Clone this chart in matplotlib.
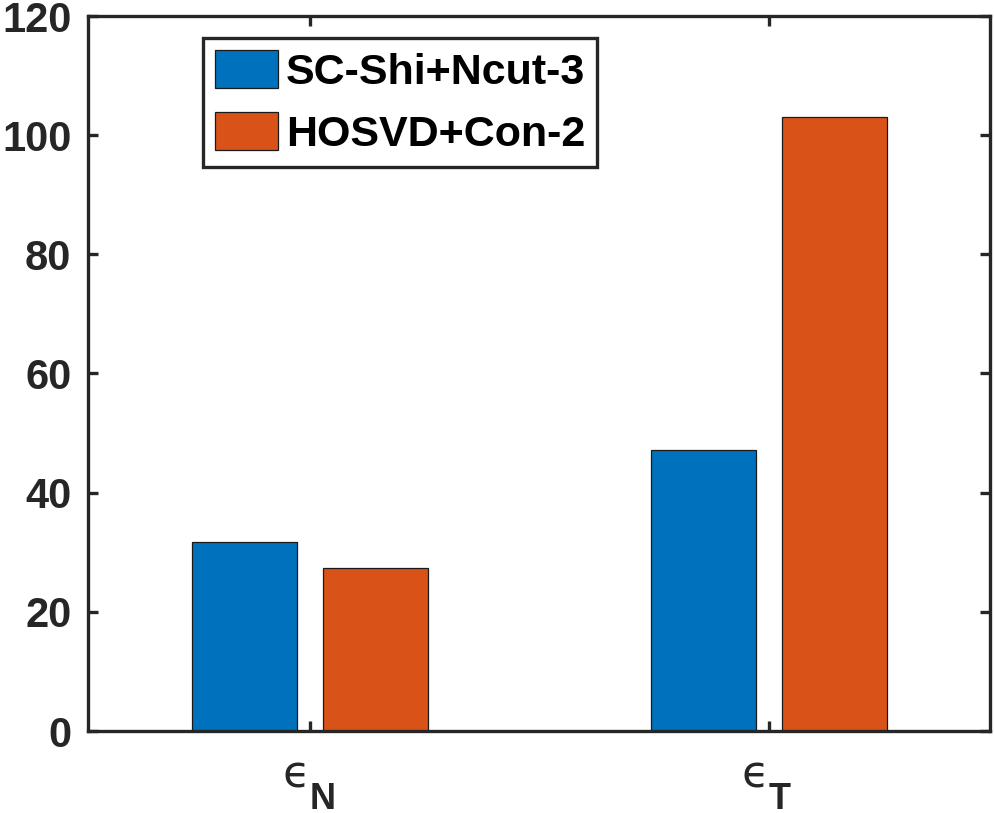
import numpy as np
import matplotlib
matplotlib.use('Agg')
import matplotlib.pyplot as plt
from matplotlib.transforms import offset_copy

# data
groups = ['N', 'T']
series_names = ['SC-Shi+Ncut-3', 'HOSVD+Con-2']
sc_shi_ncut = [31.8, 47.1]
hosvd_con = [27.4, 103.1]
y_ticks = [0, 20, 40, 60, 80, 100, 120]

BLUE = '#0072BD'
ORANGE = '#D95319'
AX_COLOR = '#262626'

plt.rcParams['font.family'] = ['Liberation Sans', 'DejaVu Sans']
plt.rcParams['font.weight'] = 'bold'

W, H = 994, 813
fig = plt.figure(figsize=(W / 100, H / 100), dpi=100)
ax = fig.add_axes([88 / W, (H - 731) / H, (990 - 88) / W, (731 - 16) / H])

x = np.arange(1, len(groups) + 1)
bar_w = 0.229
off = 0.143
ax.bar(x - off, sc_shi_ncut, bar_w, color=BLUE, edgecolor='#1a1a1a',
       linewidth=0.9, label=series_names[0])
ax.bar(x + off, hosvd_con, bar_w, color=ORANGE, edgecolor='#1a1a1a',
       linewidth=0.9, label=series_names[1])

ax.set_xlim(0.5163, 2.4815)
ax.set_ylim(0, 120)
ax.set_yticks(y_ticks)
ax.set_xticks(x)
ax.set_xticklabels([''] * len(x))

for s in ax.spines.values():
    s.set_linewidth(2.4)
    s.set_color(AX_COLOR)
ax.tick_params(axis='both', direction='in', length=7, width=2.4,
               color=AX_COLOR, labelcolor=AX_COLOR, labelsize=30,
               top=True, right=True)
ax.tick_params(axis='y', pad=12)
for lab in ax.get_yticklabels():
    lab.set_fontweight('bold')

# x tick labels: epsilon with a subscript letter
xtr = ax.get_xaxis_transform()
for xi, g in zip(x, groups):
    eps = ax.text(xi, 0, '\u03f5', transform=offset_copy(xtr, fig=fig, x=0, y=-56, units='dots'),
                  ha='right', va='baseline', fontsize=32, color=AX_COLOR,
                  family='DejaVu Sans', fontweight='normal')
    ax.annotate(g, xy=(1, 0), xycoords=(eps, xtr), xytext=(0, -78), textcoords='offset pixels',
                ha='left', va='baseline', fontsize=26, fontweight='bold', color=AX_COLOR,
                annotation_clip=False)

leg = ax.legend(loc='upper left', bbox_to_anchor=(203 / W, 1 - 38 / H),
                bbox_transform=fig.transFigure, borderaxespad=0,
                fontsize=31, handlelength=1.46, handleheight=0.97,
                handletextpad=0.18, labelspacing=0.45, borderpad=0.28,
                fancybox=False, framealpha=1, edgecolor=AX_COLOR)
leg.get_frame().set_linewidth(2.4)
for t in leg.get_texts():
    t.set_fontweight('bold')
    t.set_color('black')

fig.savefig('out.png', dpi=100)
